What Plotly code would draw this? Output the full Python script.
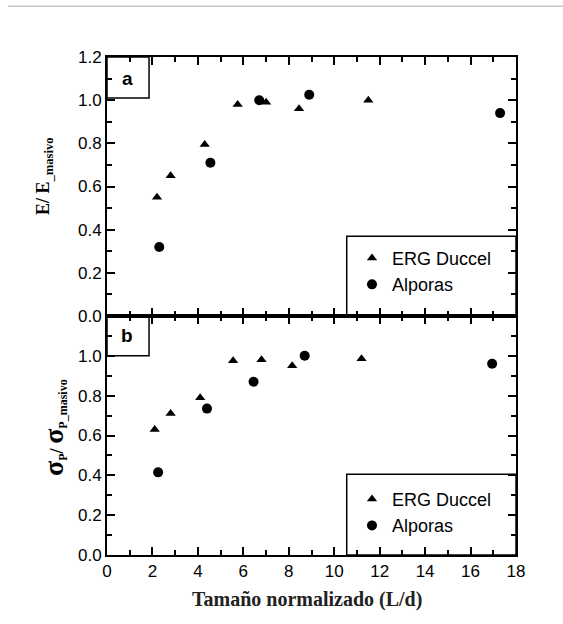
import plotly.graph_objects as go

# Panel a: relative Young's modulus vs normalized size
erg_x_a = [2.2, 2.8, 4.3, 5.75, 7.0, 8.45, 11.5]
erg_y_a = [0.55, 0.65, 0.795, 0.98, 0.99, 0.96, 1.0]
alp_x_a = [2.3, 4.55, 6.7, 8.9, 17.3]
alp_y_a = [0.32, 0.71, 1.0, 1.025, 0.94]

# Panel b: relative plateau stress vs normalized size
erg_x_b = [2.1, 2.8, 4.1, 5.55, 6.8, 8.15, 11.2]
erg_y_b = [0.63, 0.71, 0.79, 0.975, 0.98, 0.95, 0.985]
alp_x_b = [2.25, 4.4, 6.45, 8.7, 16.95]
alp_y_b = [0.415, 0.735, 0.87, 1.0, 0.96]

series_names = ["ERG Duccel", "Alporas"]
x_ticks = list(range(0, 19, 2))
y_ticks_a = [0.0, 0.2, 0.4, 0.6, 0.8, 1.0, 1.2]
y_ticks_b = [0.0, 0.2, 0.4, 0.6, 0.8, 1.0]

SANS = "Liberation Sans, Arial, sans-serif"
SERIF = "Liberation Serif, Times New Roman, serif"

fig = go.Figure()

def add_panel(xs_t, ys_t, xs_c, ys_c, xa, ya, legend):
    fig.add_trace(go.Scatter(
        x=xs_t, y=ys_t, mode="markers", name=series_names[0],
        marker=dict(symbol="triangle-up", size=9, color="black"),
        xaxis=xa, yaxis=ya, legend=legend))
    fig.add_trace(go.Scatter(
        x=xs_c, y=ys_c, mode="markers", name=series_names[1],
        marker=dict(symbol="circle", size=10, color="black"),
        xaxis=xa, yaxis=ya, legend=legend))

add_panel(erg_x_a, erg_y_a, alp_x_a, alp_y_a, "x", "y", "legend")
add_panel(erg_x_b, erg_y_b, alp_x_b, alp_y_b, "x2", "y2", "legend2")

axis_common = dict(
    showline=True, linewidth=2, linecolor="black", mirror="ticks",
    ticks="inside", ticklen=8, tickwidth=1.5, tickcolor="black",
    showgrid=False, zeroline=False,
    tickfont=dict(family=SANS, size=17, color="black"),
)
minor_x = dict(dtick=1, tick0=0, ticks="inside", ticklen=5,
               tickwidth=1.5, tickcolor="black")
minor_y = dict(dtick=0.1, tick0=0, ticks="inside", ticklen=5,
               tickwidth=1.5, tickcolor="black")

split = 239 / 498

fig.update_layout(
    width=563, height=624,
    margin=dict(l=107, r=47, t=57, b=69),
    paper_bgcolor="white", plot_bgcolor="white",
    xaxis=dict(axis_common, domain=[0, 1], anchor="y", range=[0, 18],
               tickvals=x_ticks, showticklabels=False, minor=minor_x),
    yaxis=dict(axis_common, domain=[split, 1], anchor="x", range=[0, 1.2],
               tickvals=y_ticks_a, ticktext=[f"{v:.1f}" for v in y_ticks_a],
               minor=minor_y),
    xaxis2=dict(axis_common, domain=[0, 1], anchor="y2", range=[0, 18],
                tickvals=x_ticks, minor=minor_x),
    yaxis2=dict(axis_common, domain=[0, split], anchor="x2", range=[0, 1.2],
                tickvals=y_ticks_b, ticktext=[f"{v:.1f}" for v in y_ticks_b],
                minor=minor_y),
    legend=dict(x=0.599, y=0.633, xanchor="left", yanchor="top",
                bgcolor="rgba(0,0,0,0)", borderwidth=0,
                font=dict(family=SANS, size=18, color="black"),
                itemwidth=30, tracegroupgap=0),
    legend2=dict(x=0.599, y=0.149, xanchor="left", yanchor="top",
                 bgcolor="rgba(0,0,0,0)", borderwidth=0,
                 font=dict(family=SANS, size=18, color="black"),
                 itemwidth=30, tracegroupgap=0),
)

shapes = [
    # thin grey rule across the top of the page
    dict(type="line", xref="paper", yref="paper", x0=-0.242, x1=1.115,
         y0=1.102, y1=1.102, line=dict(color="#c8c8c8", width=1.5)),
    # panel tag boxes
    dict(type="rect", xref="x", yref="y", x0=0, x1=1.85, y0=1.01, y1=1.2,
         line=dict(color="black", width=1.5)),
    dict(type="rect", xref="x2", yref="y2", x0=0, x1=1.85, y0=1.0, y1=1.2,
         line=dict(color="black", width=1.5)),
    # legend frames
    dict(type="rect", xref="x", yref="y", x0=10.55, x1=18, y0=0, y1=0.37,
         line=dict(color="black", width=1.5)),
    dict(type="rect", xref="x2", yref="y2", x0=10.55, x1=18, y0=0, y1=0.405,
         line=dict(color="black", width=1.5)),
]
fig.update_layout(shapes=shapes)

annotations = [
    dict(text="<b>a</b>", xref="x", yref="y", x=0.9, y=1.1, showarrow=False,
         font=dict(family=SANS, size=19, color="black")),
    dict(text="<b>b</b>", xref="x2", yref="y2", x=0.9, y=1.1, showarrow=False,
         font=dict(family=SANS, size=19, color="black")),
    dict(text="<b>E/ E<sub>_masivo</sub></b>", xref="paper", yref="paper",
         x=-0.186, y=0.844, textangle=-90, showarrow=False,
         font=dict(family=SERIF, size=18, color="black")),
    dict(text=("<b><span style='font-size:28px'>σ</span>"
               "<sub><span style='font-size:12px'>P</span></sub>"
               "/ <span style='font-size:28px'>σ</span>"
               "<sub><span style='font-size:12px'>P_masivo</span></sub></b>"),
         xref="paper", yref="paper", x=-0.172, y=0.155, textangle=-90,
         showarrow=False, font=dict(family=SERIF, size=18, color="black")),
    dict(text="<b>Tamaño normalizado (L/d)</b>", xref="paper", yref="paper",
         x=0.49, y=-0.09, showarrow=False, yanchor="middle",
         font=dict(family=SERIF, size=20, color="#222222")),
]
fig.update_layout(annotations=annotations)

fig.write_html("out.html")
